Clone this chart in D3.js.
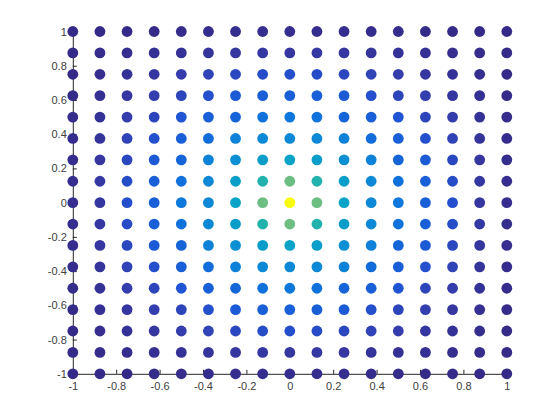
<!DOCTYPE html>
<html>
<head>
<meta charset="utf-8">
<script src="https://cdn.jsdelivr.net/npm/d3@7"></script>
<style>
  body { margin: 0; background: #fff; }
  .tick text { font-family: "Liberation Sans", Arial, sans-serif; font-size: 11px; fill: #404040; }
</style>
</head>
<body>
<script>
// grid positions, left->right and top->bottom
const gridX = [-1, -0.875, -0.75, -0.625, -0.5, -0.375, -0.25, -0.125, 0, 0.125, 0.25, 0.375, 0.5, 0.625, 0.75, 0.875, 1];
const gridY = [1, 0.875, 0.75, 0.625, 0.5, 0.375, 0.25, 0.125, 0, -0.125, -0.25, -0.375, -0.5, -0.625, -0.75, -0.875, -1];

// colour value of each dot (row = gridY, col = gridX)
const colorValues = [
  [0,0,0,0.003,0.005,0.008,0.01,0.01,0.01,0.01,0.01,0.008,0.005,0.003,0,0,0],
  [0,0.005,0.01,0.015,0.02,0.025,0.03,0.035,0.03,0.035,0.03,0.025,0.02,0.015,0.01,0.005,0],
  [0,0.01,0.02,0.03,0.045,0.06,0.07,0.08,0.085,0.08,0.07,0.06,0.045,0.03,0.02,0.01,0],
  [0.003,0.015,0.03,0.05,0.065,0.087,0.115,0.13,0.13,0.13,0.115,0.087,0.065,0.05,0.03,0.015,0.003],
  [0.005,0.02,0.045,0.065,0.10,0.13,0.145,0.18,0.20,0.18,0.145,0.13,0.10,0.065,0.045,0.02,0.005],
  [0.008,0.025,0.06,0.087,0.13,0.165,0.24,0.26,0.26,0.26,0.24,0.165,0.13,0.087,0.06,0.025,0.008],
  [0.01,0.03,0.07,0.115,0.145,0.24,0.29,0.35,0.37,0.35,0.29,0.24,0.145,0.115,0.07,0.03,0.01],
  [0.01,0.035,0.08,0.13,0.18,0.26,0.35,0.46,0.58,0.46,0.35,0.26,0.18,0.13,0.08,0.035,0.01],
  [0.01,0.03,0.085,0.13,0.20,0.26,0.37,0.58,1.00,0.58,0.37,0.26,0.20,0.13,0.085,0.03,0.01],
  [0.01,0.035,0.08,0.13,0.18,0.26,0.35,0.46,0.58,0.46,0.35,0.26,0.18,0.13,0.08,0.035,0.01],
  [0.01,0.03,0.07,0.115,0.145,0.24,0.29,0.35,0.37,0.35,0.29,0.24,0.145,0.115,0.07,0.03,0.01],
  [0.008,0.025,0.06,0.087,0.13,0.165,0.24,0.26,0.26,0.26,0.24,0.165,0.13,0.087,0.06,0.025,0.008],
  [0.005,0.02,0.045,0.065,0.10,0.13,0.145,0.18,0.20,0.18,0.145,0.13,0.10,0.065,0.045,0.02,0.005],
  [0.003,0.015,0.03,0.05,0.065,0.087,0.115,0.13,0.13,0.13,0.115,0.087,0.065,0.05,0.03,0.015,0.003],
  [0,0.01,0.02,0.03,0.045,0.06,0.07,0.08,0.085,0.08,0.07,0.06,0.045,0.03,0.02,0.01,0],
  [0,0.005,0.01,0.015,0.02,0.025,0.03,0.035,0.03,0.035,0.03,0.025,0.02,0.015,0.01,0.005,0],
  [0,0,0,0.003,0.005,0.008,0.01,0.01,0.01,0.01,0.01,0.008,0.005,0.003,0,0,0]
];

const tickValues = [-1, -0.8, -0.6, -0.4, -0.2, 0, 0.2, 0.4, 0.6, 0.8, 1];
const tickLabels = ['-1', '-0.8', '-0.6', '-0.4', '-0.2', '0', '0.2', '0.4', '0.6', '0.8', '1'];

// parula colormap anchors
const parulaStops = [0, 3/63, 6/63, 12/63, 19/63, 25/63, 31/63, 37/63, 44/63, 50/63, 56/63, 1];
const parulaColors = ['#352a87', '#353dad', '#2053d4', '#0d75dc', '#0c93d2', '#07a9c2', '#2eb7a4', '#71bf80', '#b7bd64', '#e9b94e', '#fcce2e', '#f9fb0e'];

const width = 560;
const height = 420;
const plotLeft = 72.8, plotRight = 506.8, plotTop = 31.5, plotBottom = 373.8;

const points = [];
gridY.forEach((y, i) => {
  gridX.forEach((x, j) => {
    points.push({x: x, y: y, c: colorValues[i][j]});
  });
});

const xScale = d3.scaleLinear().domain([-1, 1]).range([plotLeft, plotRight]);
const yScale = d3.scaleLinear().domain([-1, 1]).range([plotBottom, plotTop]);

const cMin = d3.min(points, d => d.c);
const cMax = d3.max(points, d => d.c);
const colorScale = d3.scaleLinear()
  .domain(parulaStops.map(s => cMin + s * (cMax - cMin)))
  .range(parulaColors);

const svg = d3.select('body')
  .append('svg')
  .attr('width', width)
  .attr('height', height);

const xAxis = d3.axisBottom(xScale)
  .tickValues(tickValues)
  .tickFormat((d, i) => tickLabels[i])
  .tickSizeInner(-4)
  .tickSizeOuter(0)
  .tickPadding(8);

const yAxis = d3.axisLeft(yScale)
  .tickValues(tickValues)
  .tickFormat((d, i) => tickLabels[i])
  .tickSizeInner(-4)
  .tickSizeOuter(0)
  .tickPadding(6);

const gx = svg.append('g')
  .attr('transform', 'translate(0,' + plotBottom + ')')
  .call(xAxis);

const gy = svg.append('g')
  .attr('transform', 'translate(' + plotLeft + ',0)')
  .call(yAxis);

[gx, gy].forEach(g => {
  g.select('.domain').attr('stroke', '#262626');
  g.selectAll('.tick line').attr('stroke', '#262626');
});

svg.append('g')
  .selectAll('circle')
  .data(points)
  .enter()
  .append('circle')
  .attr('cx', d => xScale(d.x))
  .attr('cy', d => yScale(d.y))
  .attr('r', 5.4)
  .style('fill', d => colorScale(d.c));
</script>
</body>
</html>
